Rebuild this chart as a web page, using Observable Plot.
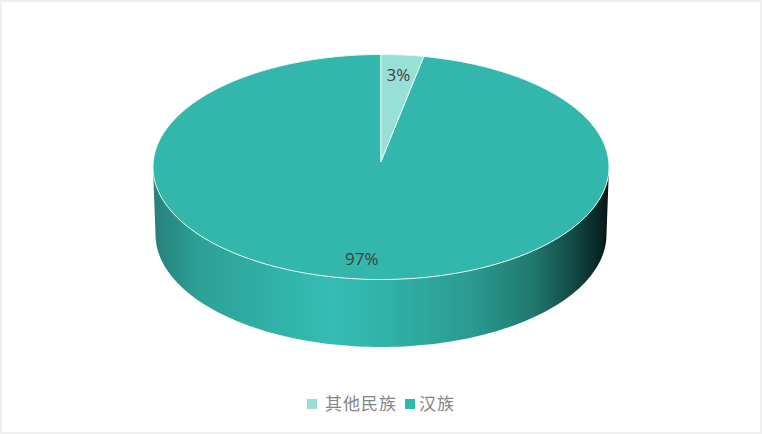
<!DOCTYPE html>
<html>
<head>
<meta charset="utf-8">
<script src="https://cdn.jsdelivr.net/npm/d3@7"></script>
<script src="https://cdn.jsdelivr.net/npm/@observablehq/plot@0.6"></script>
<style>
html,body{margin:0;padding:0;background:#fff;width:762px;height:434px;overflow:hidden}
#frame{position:absolute;left:0;top:0;width:762px;height:434px;box-sizing:border-box;border:2px solid #efefef;pointer-events:none}
#legend{position:absolute;left:0;top:388px;width:762px;height:30px;font:17px "Noto Sans CJK SC","Noto Sans",sans-serif;color:#858585}
#legend span{position:absolute;top:2px;white-space:nowrap;letter-spacing:1px;line-height:26px}
#legend i{position:absolute;top:11px;width:10px;height:10px}
svg{display:block}
</style>
</head>
<body>
<div id="chart"></div>
<div id="legend"></div>
<div id="frame"></div>
<script>
const categories = ["其他民族", "汉族"];
const values = [3, 97];
const labels = ["3%", "97%"];
const colors = ["#98dfd6", "#33b6ac"];
const gradientStops = [[0, "#27807a"], [0.1, "#2da096"], [0.22, "#30ada3"], [0.39, "#35bdb3"], [0.5, "#32b3a9"], [0.7, "#2a9a90"], [0.83, "#207a70"], [0.92, "#134a46"], [0.97, "#0a2c2a"], [1, "#041413"]];

const total = d3.sum(values);
const depth = 0.6, apexY = 0.05, baseRx = 0.989;
const onEllipse = (t, rx, cy, ry) => ({x: rx * Math.sin(t), y: cy + ry * Math.cos(t)});
const arc = (a0, a1, rx, cy, ry, n) => d3.range(n + 1).map(k => onEllipse(a0 + (a1 - a0) * k / n, rx, cy, ry));

let acc = 0;
const slices = values.map((v, i) => {
  const a0 = acc / total * 2 * Math.PI; acc += v;
  const a1 = acc / total * 2 * Math.PI;
  const n = Math.max(8, Math.round((a1 - a0) * 60));
  return {color: colors[i], pts: [{x: 0, y: apexY}, ...arc(a0, a1, 1, 0, 1, n), {x: 0, y: apexY}]};
});

const side = [
  ...arc(Math.PI * 0.5, Math.PI * 1.5, 1, 0, 1, 120),
  ...arc(Math.PI * 1.5, Math.PI * 0.5, baseRx, -depth, 1, 120)
];

const defs = () => {
  const d = d3.create("svg:defs");
  const g = d.append("linearGradient").attr("id", "wall");
  gradientStops.forEach(([o, c]) => g.append("stop").attr("offset", o).attr("stop-color", c));
  return d.node();
};

const chart = Plot.plot({
  width: 762, height: 388, margin: 0,
  style: {background: "transparent"},
  axis: null,
  x: {domain: [-1, 1], range: [152.5, 608.5], axis: null},
  y: {domain: [1, -1], range: [54, 279], axis: null},
  marks: [
    defs,
    Plot.line(side, {x: "x", y: "y", fill: "url(#wall)", stroke: "none", curve: "linear"}),
    ...slices.slice().reverse().map(s => Plot.line(s.pts, {x: "x", y: "y", fill: s.color, stroke: "#e6f9f6", strokeWidth: 1, curve: "linear"})),
    Plot.text([{x: 0.076, y: 0.816, t: labels[0]}, {x: -0.084, y: -0.827, t: labels[1]}], {
      x: "x", y: "y", text: "t", fontSize: 17, fill: "#404040", fontFamily: "Open Sans, Noto Sans, sans-serif"
    })
  ]
});
document.getElementById("chart").append(chart);

const legendPos = [{sw: 307, tx: 325}, {sw: 405, tx: 419}];
const legend = document.getElementById("legend");
categories.forEach((c, i) => {
  const sw = document.createElement("i");
  sw.style.left = legendPos[i].sw + "px"; sw.style.background = colors[i];
  const t = document.createElement("span");
  t.style.left = legendPos[i].tx + "px"; t.textContent = c;
  legend.append(sw, t);
});
</script>
</body>
</html>
